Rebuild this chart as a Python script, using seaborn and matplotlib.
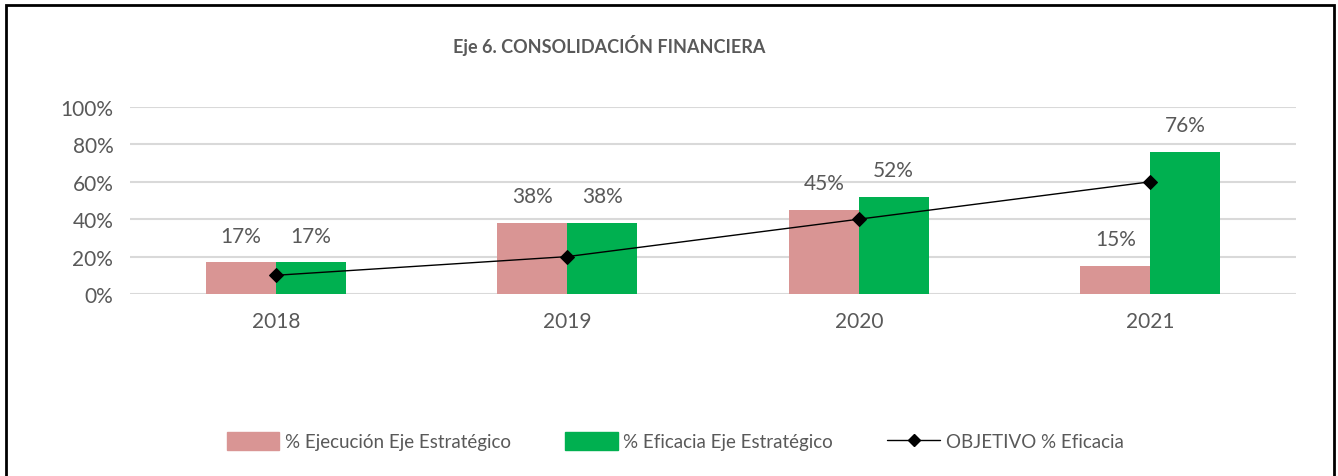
import matplotlib.pyplot as plt
import matplotlib.patches as mpatches
import pandas as pd
import seaborn as sns
from matplotlib.lines import Line2D
from matplotlib.ticker import PercentFormatter

# Datos
anios = ['2018', '2019', '2020', '2021']
ejecucion = [0.17, 0.38, 0.45, 0.15]
eficacia = [0.17, 0.38, 0.52, 0.76]
objetivo = [0.10, 0.20, 0.40, 0.60]

serie_ejec = '% Ejecución Eje Estratégico'
serie_efic = '% Eficacia Eje Estratégico'
serie_obj = 'OBJETIVO % Eficacia'

colores = {serie_ejec: '#d99594', serie_efic: '#00b050'}
gris = '#595959'

df = pd.DataFrame({
    'anio': anios * 2,
    'valor': ejecucion + eficacia,
    'serie': [serie_ejec] * 4 + [serie_efic] * 4,
})

sns.set_theme(style='white')
plt.rcParams['font.family'] = ['Lato', 'DejaVu Sans']

fig = plt.figure(figsize=(13.38, 4.77), dpi=100)
ax = fig.add_axes([130 / 1338, 1 - 295 / 477, 1166 / 1338, 187 / 477])

sns.barplot(data=df, x='anio', y='valor', hue='serie', palette=colores,
            width=0.48, gap=0, saturation=1, linewidth=0, ax=ax, legend=False)
sns.pointplot(x=anios, y=objetivo, color='black', markers='D', markersize=7.5,
              linewidth=1, ax=ax)

# Etiquetas de datos
for cont in ax.containers:
    ax.bar_label(cont, labels=[f'{v * 100:.0f}%' for v in cont.datavalues],
                 padding=12, fontsize=15, color=gris)

ax.set_xlim(-0.5, 3.5)
ax.set_ylim(0, 1)
ax.set_yticks([0, 0.2, 0.4, 0.6, 0.8, 1.0])
ax.yaxis.set_major_formatter(PercentFormatter(1, decimals=0))
ax.grid(axis='y', color='#d9d9d9', linewidth=1.5)
ax.set_axisbelow(True)
for s in ax.spines.values():
    s.set_visible(False)
ax.tick_params(axis='both', length=0, labelsize=15, labelcolor=gris)
ax.tick_params(axis='x', pad=12)
ax.tick_params(axis='y', pad=12)
ax.set_xlabel('')
ax.set_ylabel('')

fig.text(609 / 1338, 1 - 45 / 477, 'Eje 6. CONSOLIDACIÓN FINANCIERA',
         ha='center', va='center', fontsize=13, fontweight='bold', color=gris)

handles = [
    mpatches.Patch(color=colores[serie_ejec], label=serie_ejec),
    mpatches.Patch(color=colores[serie_efic], label=serie_efic),
    Line2D([], [], color='black', marker='D', markersize=6, linewidth=1, label=serie_obj),
]
fig.legend(handles=handles, loc='center', bbox_to_anchor=(675 / 1338, 1 - 442 / 477),
           ncol=3, frameon=False, fontsize=13.5, labelcolor=gris,
           handlelength=2.8, handleheight=1.1, handletextpad=0.3, columnspacing=2.9)

# Marco exterior
fig.patches.append(mpatches.Rectangle((6 / 1338, -0.05), 1328 / 1338, 1.05 - 6 / 477,
                                      transform=fig.transFigure, fill=False,
                                      edgecolor='black', linewidth=2))

fig.savefig('out.png', dpi=100)
